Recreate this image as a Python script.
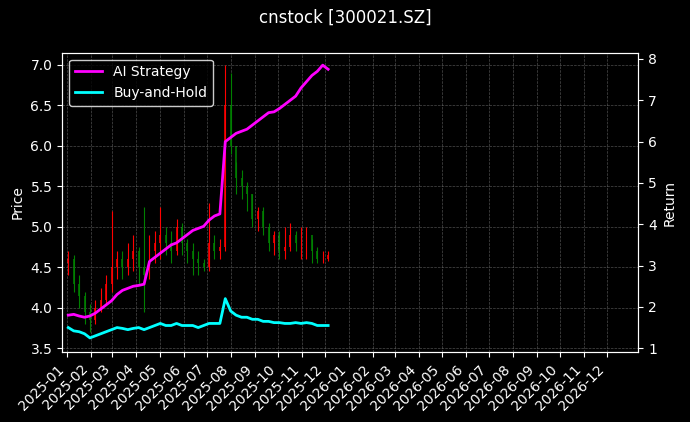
import numpy as np, pandas as pd, matplotlib
matplotlib.use("Agg")
import matplotlib.pyplot as plt, matplotlib.dates as mdates, seaborn as sns

plt.style.use("dark_background")
sns.set_style({"axes.facecolor": "black", "figure.facecolor": "black"})
plt.rcParams["font.size"] = 10
plt.rcParams["font.family"] = ["DejaVu Sans"]

dates = pd.date_range("2025-01-03", periods=49, freq="W-FRI")
opens  = [4.55,4.60,4.30,4.15,3.95,3.85,4.00,4.10,4.30,4.50,4.60,4.50,4.60,4.70,4.50,4.40,4.70,4.80,4.90,4.80,4.70,5.00,4.80,4.70,4.60,4.55,4.50,4.80,4.70,4.75,6.50,6.00,5.60,5.50,5.40,5.10,5.20,5.00,4.80,4.90,4.70,4.75,4.90,4.80,4.80,4.90,4.70,4.60,4.60]
closes = [4.60,4.30,4.15,3.95,3.85,4.00,4.10,4.30,4.50,4.60,4.50,4.60,4.70,4.50,4.40,4.70,4.80,4.90,4.80,4.70,5.00,4.80,4.70,4.60,4.55,4.50,4.80,4.70,4.75,6.50,6.00,5.60,5.50,5.40,5.10,5.20,5.00,4.80,4.90,4.70,4.75,4.90,4.80,4.80,4.90,4.70,4.60,4.60,4.65]
highs  = [4.70,4.65,4.40,4.20,4.05,4.10,4.25,4.40,5.20,4.70,4.70,4.80,4.90,4.75,5.25,4.90,4.95,5.25,5.00,4.95,5.10,5.05,4.85,4.80,4.70,4.60,5.30,4.90,4.85,7.00,6.90,5.80,5.70,5.55,5.40,5.25,5.25,5.05,4.95,4.95,5.00,5.05,4.95,5.00,5.00,4.85,4.75,4.70,4.70]
lows   = [4.40,4.20,4.00,3.80,3.70,3.80,3.95,4.05,4.20,4.35,4.35,4.40,4.45,4.30,3.95,4.35,4.55,4.60,4.65,4.55,4.65,4.65,4.55,4.40,4.40,4.45,4.45,4.60,4.60,4.70,5.90,5.40,5.35,5.20,5.00,4.95,4.90,4.70,4.65,4.60,4.60,4.70,4.70,4.60,4.60,4.55,4.55,4.55,4.58]
strategy = [1.80,1.82,1.78,1.75,1.78,1.85,1.95,2.05,2.15,2.30,2.40,2.45,2.50,2.52,2.55,3.10,3.20,3.30,3.40,3.50,3.55,3.65,3.75,3.85,3.90,3.95,4.10,4.20,4.25,6.00,6.10,6.20,6.25,6.30,6.40,6.50,6.60,6.70,6.72,6.80,6.90,7.00,7.10,7.30,7.45,7.60,7.70,7.85,7.75]
buyhold  = [1.50,1.42,1.40,1.35,1.25,1.30,1.35,1.40,1.45,1.50,1.48,1.45,1.48,1.50,1.45,1.50,1.55,1.60,1.55,1.55,1.60,1.55,1.55,1.55,1.50,1.55,1.60,1.60,1.60,2.20,1.90,1.80,1.75,1.75,1.70,1.70,1.65,1.65,1.62,1.62,1.60,1.60,1.62,1.60,1.62,1.60,1.55,1.55,1.55]

fig, ax = plt.subplots(figsize=(6.9, 4.22), dpi=100)
cols = ["red" if c >= o else "green" for o, c in zip(opens, closes)]
ax.vlines(dates, lows, highs, colors=cols, linewidth=0.8)
bot = np.minimum(opens, closes); hgt = np.abs(np.array(closes) - np.array(opens))
ax.bar(dates, hgt, bottom=bot, width=2.5, color=cols, alpha=0.8, linewidth=0)
ax.set_ylim(3.45, 7.15)
ax.set_ylabel("Price", color="white")
ax.grid(True, color="gray", linestyle="--", linewidth=0.5, alpha=0.6)

ax2 = ax.twinx()
df = pd.DataFrame({"date": dates, "AI Strategy": strategy, "Buy-and-Hold": buyhold})
sns.lineplot(data=df, x="date", y="AI Strategy", ax=ax2, color="magenta", linewidth=2, label="AI Strategy")
sns.lineplot(data=df, x="date", y="Buy-and-Hold", ax=ax2, color="cyan", linewidth=2, label="Buy-and-Hold")
ax2.set_ylim(0.9, 8.15)
ax2.set_ylabel("Return", color="white")
ax2.legend(loc="upper left", facecolor="black", edgecolor="white")
ax.set_xlim(pd.Timestamp("2024-12-26"), pd.Timestamp("2027-01-10"))
ax.xaxis.set_major_locator(mdates.MonthLocator())
ax.xaxis.set_major_formatter(mdates.DateFormatter("%Y-%m"))
ax.set_xticks(pd.date_range("2025-01-01", "2026-12-01", freq="MS"))
plt.setp(ax.get_xticklabels(), rotation=45, ha="right")
ax2.set_xlabel("")
for a in (ax, ax2):
    for s in a.spines.values():
        s.set_color("white")
fig.suptitle("cnstock [300021.SZ]", color="white", fontsize=12)
fig.subplots_adjust(left=0.09, right=0.925, top=0.875, bottom=0.165)
fig.savefig("out.png", dpi=100, facecolor="black")
